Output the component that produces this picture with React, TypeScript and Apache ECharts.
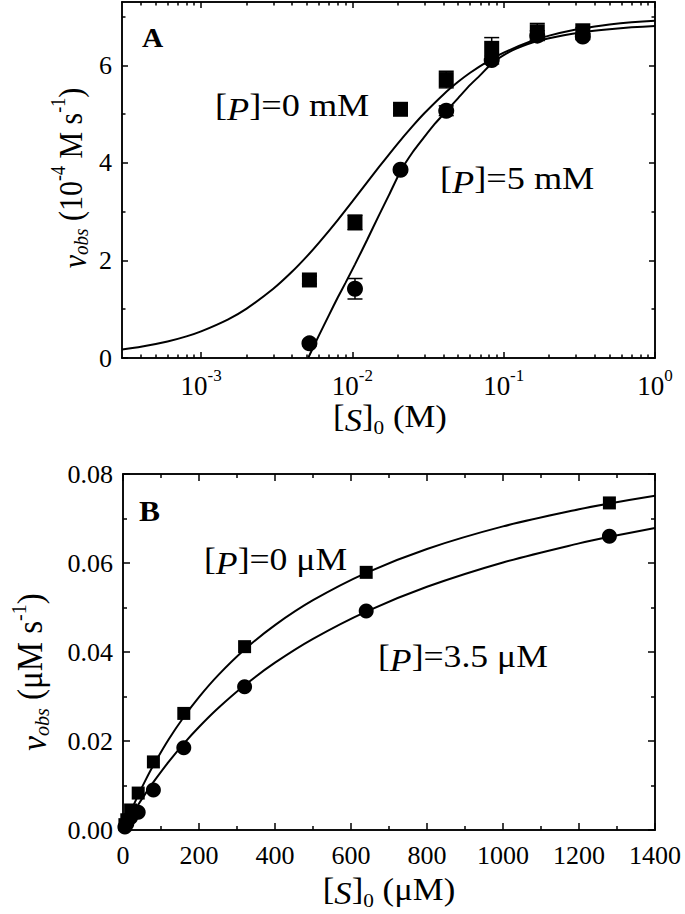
import React, { useEffect, useRef } from "react";
import * as echarts from "echarts";

// ---------- Panel A data ----------
const aConc = [0.0052, 0.0104, 0.0208, 0.0417, 0.0833, 0.1667, 0.3333];
const aRate0 = [1.6, 2.78, 5.1, 5.71, 6.35, 6.69, 6.71];
const aErr0 = [0.08, 0.15, 0.08, 0.17, 0.22, 0.17, 0.06];
const aRate5 = [0.3, 1.42, 3.86, 5.07, 6.11, 6.61, 6.59];
const aErr5 = [0.05, 0.21, 0.05, 0.1, 0.08, 0.1, 0.06];
const aFitX0 = [0.0003, 0.0004, 0.0006, 0.0008, 0.001, 0.0015, 0.002, 0.003, 0.004, 0.005, 0.006, 0.008, 0.01, 0.0125, 0.015, 0.02, 0.025, 0.03, 0.04, 0.05, 0.06, 0.08, 0.1, 0.15, 0.2, 0.3, 0.4, 0.5, 0.7, 1.0];
const aFitY0 = [0.174, 0.23, 0.339, 0.444, 0.547, 0.789, 1.014, 1.419, 1.772, 2.083, 2.36, 2.828, 3.211, 3.601, 3.918, 4.403, 4.755, 5.024, 5.405, 5.663, 5.85, 6.1, 6.261, 6.489, 6.61, 6.735, 6.799, 6.839, 6.884, 6.918];
const aFitX5 = [0.0051, 0.006, 0.007, 0.008, 0.009, 0.0104, 0.0125, 0.015, 0.0175, 0.0208, 0.025, 0.03, 0.035, 0.0417, 0.05, 0.06, 0.07, 0.0833, 0.1, 0.12, 0.1667, 0.25, 0.3333, 0.5, 0.7, 1.0];
const aFitY5 = [0, 0.46, 0.88, 1.24, 1.54, 1.92, 2.42, 2.93, 3.35, 3.83, 4.22, 4.54, 4.8, 5.06, 5.33, 5.6, 5.8, 6.04, 6.21, 6.34, 6.5, 6.62, 6.68, 6.74, 6.78, 6.81];
const aXMajor = [0.001, 0.01, 0.1, 1];
const aXMinor = [0.0004, 0.0005, 0.0006, 0.0007, 0.0008, 0.0009, 0.002, 0.003, 0.004, 0.005, 0.006, 0.007, 0.008, 0.009, 0.02, 0.03, 0.04, 0.05, 0.06, 0.07, 0.08, 0.09, 0.2, 0.3, 0.4, 0.5, 0.6, 0.7, 0.8, 0.9];
const aYMajor = [0, 2, 4, 6];
const aYMinor = [1, 3, 5, 7];

// ---------- Panel B data ----------
const bConc = [5, 10, 20, 40, 80, 160, 320, 640, 1280];
const bRate0 = [0.0012, 0.0023, 0.0045, 0.0083, 0.0153, 0.0262, 0.0412, 0.0579, 0.0735];
const bRate35 = [0.0007, 0.0014, 0.0028, 0.004, 0.009, 0.0185, 0.0322, 0.0492, 0.066];
const bFitX = [0, 10, 20, 40, 60, 80, 120, 160, 200, 250, 320, 400, 500, 640, 800, 1000, 1200, 1280, 1400];
const bFitY0 = [0, 0.00208, 0.00408, 0.00784, 0.01131, 0.01454, 0.02034, 0.0254, 0.02987, 0.03475, 0.04056, 0.04605, 0.05164, 0.05779, 0.06316, 0.06823, 0.07209, 0.07338, 0.07512];
const bFitY35 = [0, 0.00148, 0.00292, 0.00568, 0.00828, 0.01075, 0.0153, 0.01941, 0.02314, 0.02735, 0.03252, 0.0376, 0.04296, 0.04909, 0.05466, 0.06012, 0.06441, 0.06588, 0.06786];
const bXMajor = [0, 200, 400, 600, 800, 1000, 1200, 1400];
const bXMinor = [100, 300, 500, 700, 900, 1100, 1300];
const bYMajor = [0, 0.02, 0.04, 0.06, 0.08];
const bYMinor = [0.01, 0.03, 0.05, 0.07];

const FONT = "Liberation Serif";
const BLACK = "#000";

function axis(gridIndex: number, type: string, min: number, max: number, position: string, values: number[], len: number, label: any) {
  const a: any = {
    gridIndex,
    type,
    min,
    max,
    position,
    axisLine: { show: true, onZero: false, lineStyle: { color: BLACK, width: 1.5 } },
    axisTick: { show: true, inside: true, length: len, customValues: values, lineStyle: { color: BLACK, width: 1.5 } },
    splitLine: { show: false },
    minorTick: { show: false },
    axisLabel: label ? { show: true, customValues: values, color: BLACK, fontFamily: FONT, fontSize: 26, ...label } : { show: false },
  };
  if (type === "log") a.logBase = 10;
  return a;
}

const supRich = {
  b: { fontFamily: FONT, fontSize: 27, color: BLACK, lineHeight: 32, verticalAlign: "bottom" },
  s: { fontFamily: FONT, fontSize: 17, color: BLACK, lineHeight: 17, verticalAlign: "top" },
};

function errRender(params: any, api: any) {
  const x = api.value(0);
  const y = api.value(1);
  const e = api.value(2);
  const lo = api.coord([x, y - e]);
  const hi = api.coord([x, y + e]);
  const hw = 7.5;
  const st = { stroke: BLACK, lineWidth: 1.5 };
  return {
    type: "group",
    children: [
      { type: "line", shape: { x1: lo[0], y1: lo[1], x2: hi[0], y2: hi[1] }, style: st },
      { type: "line", shape: { x1: lo[0] - hw, y1: lo[1], x2: lo[0] + hw, y2: lo[1] }, style: st },
      { type: "line", shape: { x1: hi[0] - hw, y1: hi[1], x2: hi[0] + hw, y2: hi[1] }, style: st },
    ],
  };
}

const R = (fs: number) => ({
  n: { fontFamily: FONT, fontSize: fs, fill: BLACK, lineHeight: fs + 8, verticalAlign: "bottom" },
  i: { fontFamily: FONT, fontSize: fs, fontStyle: "italic", fill: BLACK, lineHeight: fs + 8, verticalAlign: "bottom" },
  sub: { fontFamily: FONT, fontSize: Math.round(fs * 0.62), fontStyle: "italic", fill: BLACK, lineHeight: Math.round(fs * 0.62), verticalAlign: "bottom" },
  subn: { fontFamily: FONT, fontSize: Math.round(fs * 0.62), fill: BLACK, lineHeight: Math.round(fs * 0.62), verticalAlign: "bottom" },
  sup: { fontFamily: FONT, fontSize: Math.round(fs * 0.6), fill: BLACK, lineHeight: Math.round(fs * 0.6), verticalAlign: "top" },
});

function txt(x: number, y: number, text: string, fs: number, align: string, opts: any = {}) {
  return {
    type: "text",
    x,
    y,
    rotation: opts.rotation || 0,
    scaleX: opts.sx || 1,
    scaleY: opts.sy || 1,
    style: {
      text,
      rich: R(fs),
      fontFamily: FONT,
      fontSize: fs,
      fontWeight: opts.bold ? "bold" : "normal",
      fill: BLACK,
      align,
      verticalAlign: "middle",
    },
  };
}

export default function App() {
  const ref = useRef<HTMLDivElement>(null);
  useEffect(() => {
    if (!ref.current) return;
    const chart = echarts.init(ref.current, undefined, { renderer: "svg" });
    const dot = { color: BLACK, opacity: 1 };
    const option: any = {
      animation: false,
      backgroundColor: "#fff",
      textStyle: { fontFamily: FONT },
      grid: [
        { left: 122, top: 2, width: 533, height: 356 },
        { left: 123, top: 474, width: 532, height: 356 },
      ],
      xAxis: [
        axis(0, "log", 0.0003, 1, "bottom", aXMajor, 6, {
          margin: 9,
          formatter: (v: number) => `{b|10}{s|${Math.round(Math.log10(v))}}`,
          rich: supRich,
        }),
        axis(0, "log", 0.0003, 1, "bottom", aXMinor, 3.5, null),
        axis(0, "log", 0.0003, 1, "top", aXMajor, 6, null),
        axis(0, "log", 0.0003, 1, "top", aXMinor, 3.5, null),
        axis(1, "value", 0, 1400, "bottom", bXMajor, 7, { margin: 12, formatter: (v: number) => String(v) }),
        axis(1, "value", 0, 1400, "bottom", bXMinor, 4, null),
        axis(1, "value", 0, 1400, "top", bXMajor, 7, null),
        axis(1, "value", 0, 1400, "top", bXMinor, 4, null),
      ],
      yAxis: [
        axis(0, "value", 0, 7.3, "left", aYMajor, 6, { margin: 10, formatter: (v: number) => String(v) }),
        axis(0, "value", 0, 7.3, "left", aYMinor, 3.5, null),
        axis(0, "value", 0, 7.3, "right", aYMajor, 6, null),
        axis(0, "value", 0, 7.3, "right", aYMinor, 3.5, null),
        axis(1, "value", 0, 0.08, "left", bYMajor, 7, { margin: 10, formatter: (v: number) => v.toFixed(2) }),
        axis(1, "value", 0, 0.08, "left", bYMinor, 4, null),
        axis(1, "value", 0, 0.08, "right", bYMajor, 7, null),
        axis(1, "value", 0, 0.08, "right", bYMinor, 4, null),
      ],
      series: [
        {
          type: "line", xAxisIndex: 0, yAxisIndex: 0, showSymbol: false, smooth: 0.2, z: 2,
          lineStyle: { color: BLACK, width: 2 },
          data: aFitX0.map((x, i) => [x, aFitY0[i]]),
        },
        {
          type: "line", xAxisIndex: 0, yAxisIndex: 0, showSymbol: false, smooth: 0.2, z: 2,
          lineStyle: { color: BLACK, width: 2 },
          data: aFitX5.map((x, i) => [x, aFitY5[i]]),
        },
        { type: "custom", xAxisIndex: 0, yAxisIndex: 0, z: 3, renderItem: errRender, data: aConc.map((c, i) => [c, aRate0[i], aErr0[i]]) },
        { type: "custom", xAxisIndex: 0, yAxisIndex: 0, z: 3, renderItem: errRender, data: aConc.map((c, i) => [c, aRate5[i], aErr5[i]]) },
        {
          type: "scatter", xAxisIndex: 0, yAxisIndex: 0, symbol: "rect", symbolSize: 15, z: 4,
          itemStyle: dot, data: aConc.map((c, i) => [c, aRate0[i]]),
        },
        {
          type: "scatter", xAxisIndex: 0, yAxisIndex: 0, symbol: "circle", symbolSize: 16, z: 4,
          itemStyle: dot, data: aConc.map((c, i) => [c, aRate5[i]]),
        },
        {
          type: "line", xAxisIndex: 4, yAxisIndex: 4, showSymbol: false, smooth: 0.3, z: 2,
          lineStyle: { color: BLACK, width: 2 },
          data: bFitX.map((x, i) => [x, bFitY0[i]]),
        },
        {
          type: "line", xAxisIndex: 4, yAxisIndex: 4, showSymbol: false, smooth: 0.3, z: 2,
          lineStyle: { color: BLACK, width: 2 },
          data: bFitX.map((x, i) => [x, bFitY35[i]]),
        },
        {
          type: "scatter", xAxisIndex: 4, yAxisIndex: 4, symbol: "rect", symbolSize: 13, z: 4,
          itemStyle: dot, data: bConc.map((c, i) => [c, bRate0[i]]),
        },
        {
          type: "scatter", xAxisIndex: 4, yAxisIndex: 4, symbol: "circle", symbolSize: 15, z: 4,
          itemStyle: dot, data: bConc.map((c, i) => [c, bRate35[i]]),
        },
      ],
      graphic: [
        txt(142, 37, "A", 28, "left", { bold: true, sx: 1.05 }),
        txt(215, 105, "[{i|P}]=0 mM", 31, "left", { sx: 1.17 }),
        txt(440, 178, "[{i|P}]=5 mM", 31, "left", { sx: 1.17 }),
        txt(390, 417, "[{i|S}]{subn|0} (M)", 31, "center", { sx: 1.12 }),
        txt(70, 178, "{i|v}{sub|obs} (10{sup|-4} M s{sup|-1})", 30, "center", { rotation: Math.PI / 2, sy: 1.15 }),
        txt(139, 511, "B", 30, "left", { bold: true, sx: 1.05 }),
        txt(204, 559, "[{i|P}]=0 μM", 31, "left", { sx: 1.15 }),
        txt(378, 656, "[{i|P}]=3.5 μM", 31, "left", { sx: 1.15 }),
        txt(389, 890, "[{i|S}]{subn|0} (μM)", 31, "center", { sx: 1.12 }),
        txt(30, 672, "{i|v}{sub|obs} (μM s{sup|-1})", 33, "center", { rotation: Math.PI / 2, sy: 1.1 }),
      ],
    };
    chart.setOption(option);
    return () => chart.dispose();
  }, []);
  return <div ref={ref} style={{ position: "absolute", left: 0, top: 0, width: 685, height: 914 }} />;
}
